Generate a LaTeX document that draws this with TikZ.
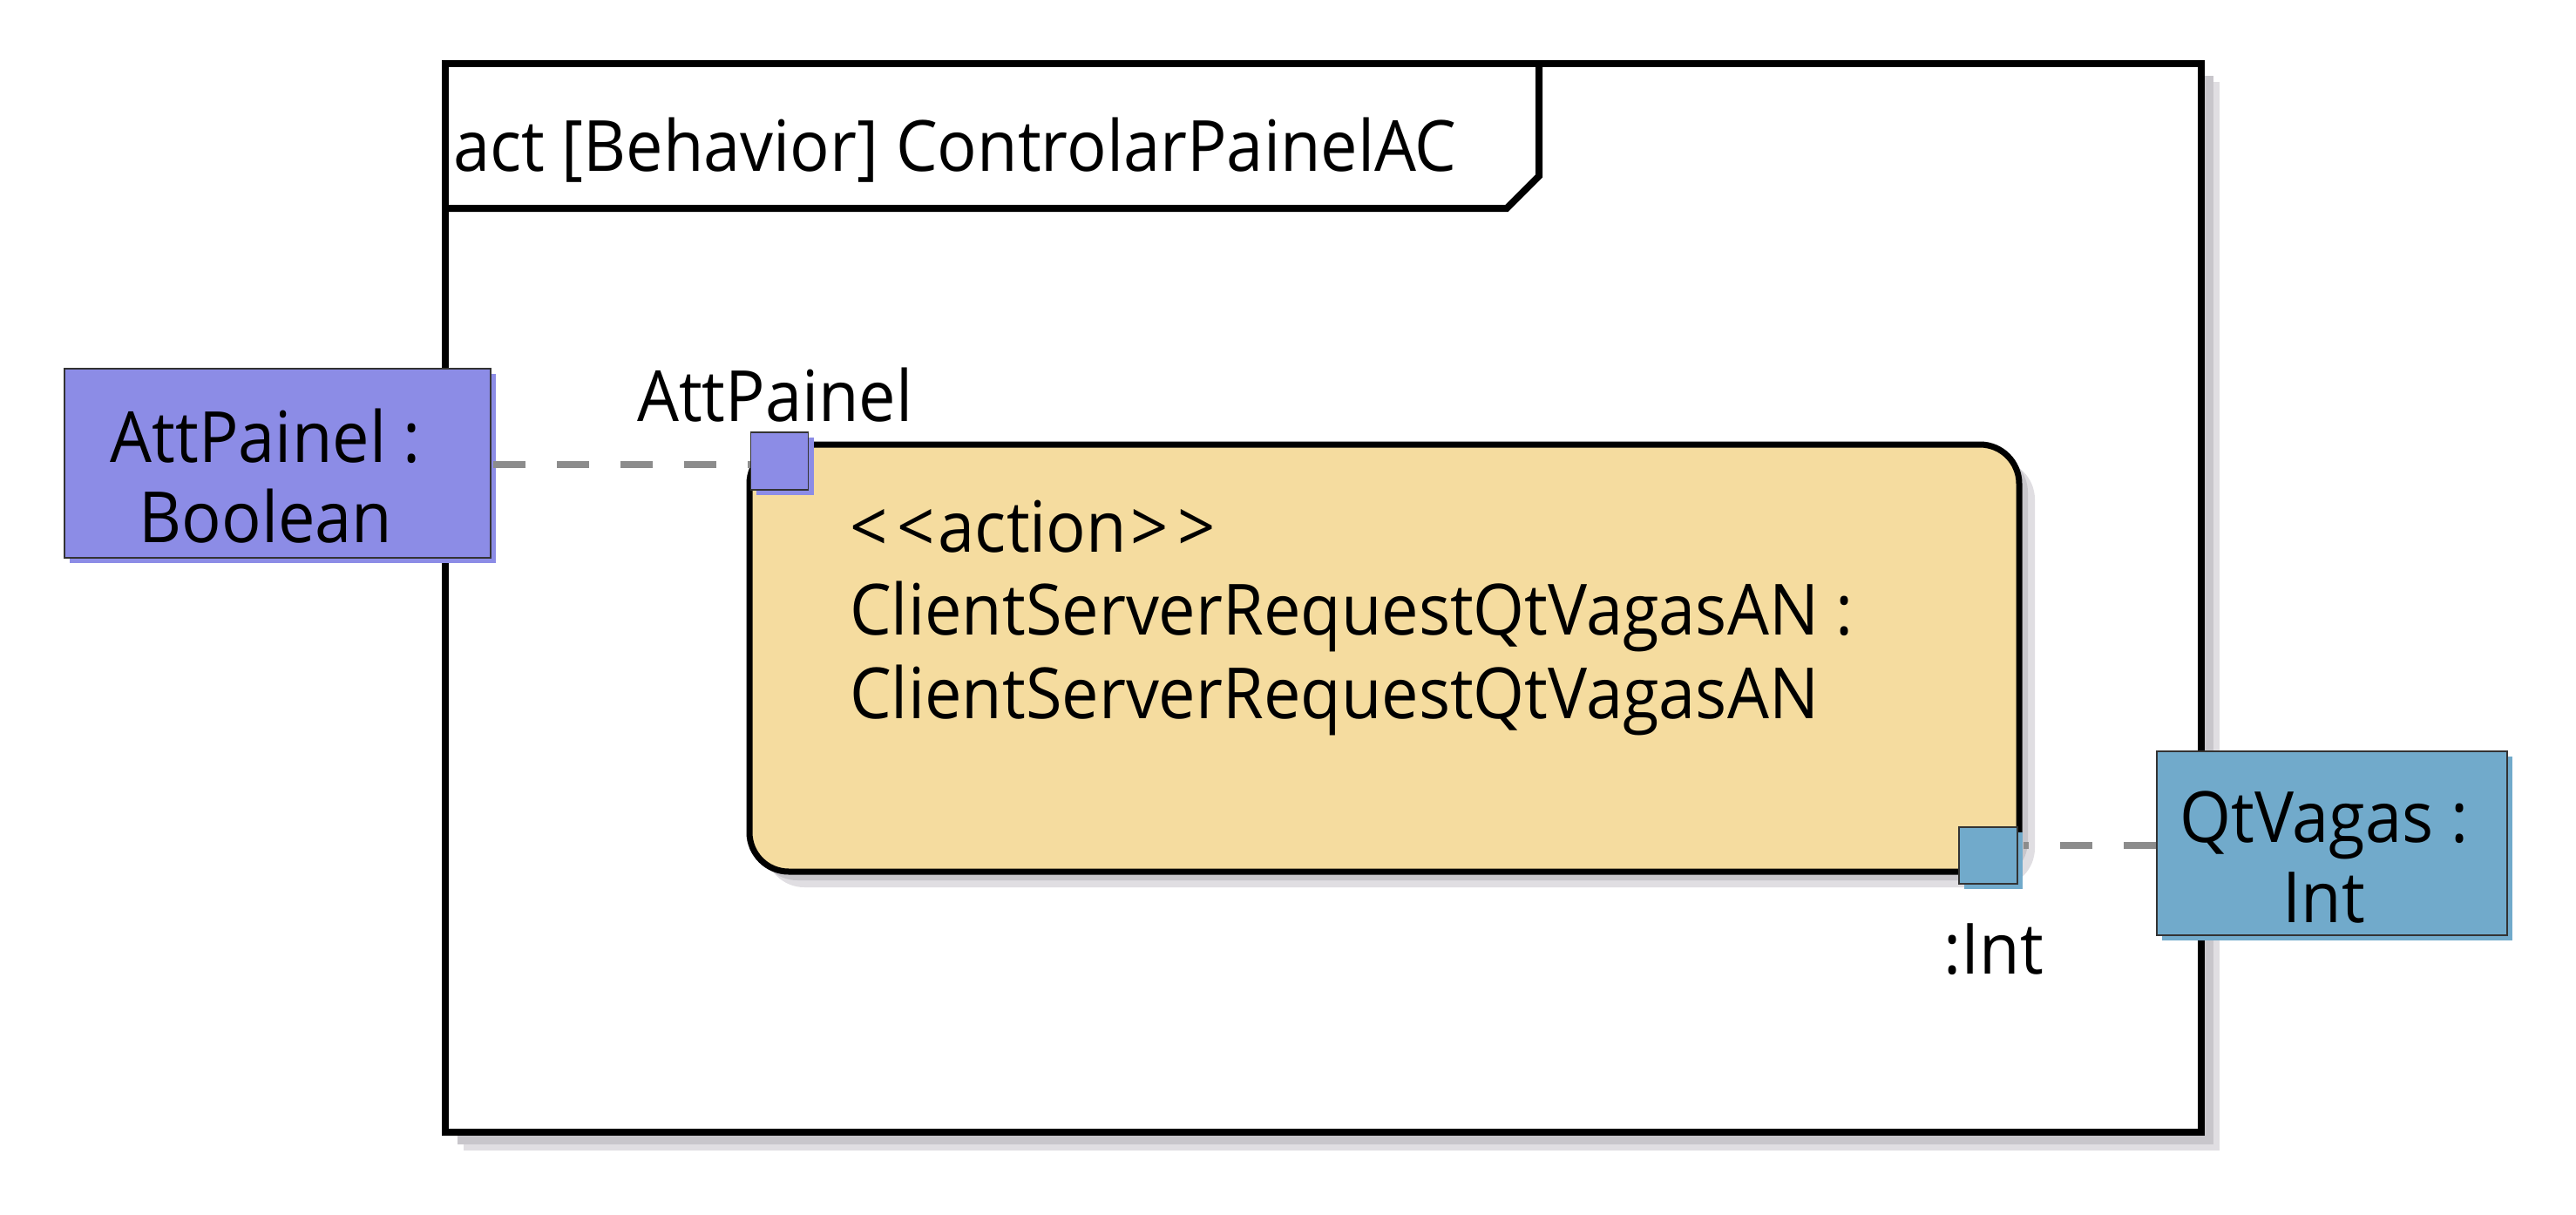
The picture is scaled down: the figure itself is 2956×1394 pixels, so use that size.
\documentclass[tikz,border=0pt]{standalone}
\usepackage{fontspec}
\setmainfont[FakeStretch=0.935]{Open Sans}
\usetikzlibrary{shadows}
\definecolor{purp}{HTML}{8C8CE6}
\definecolor{blu}{HTML}{71AACB}
\definecolor{actfill}{HTML}{F5DC9F}
\definecolor{dashg}{HTML}{8C8C8C}
\definecolor{shd}{HTML}{C8C6CB}
\definecolor{shl}{HTML}{E0DEE2}
\definecolor{edgec}{HTML}{333333}
\begin{document}
\begin{tikzpicture}[x=1pt,y=-1pt,
  txt/.style={font=\fontsize{81}{92}\selectfont, inner sep=0pt},
  objbox/.style={draw=edgec, line width=2pt, fill=#1, inner sep=0pt,
    drop shadow={shadow xshift=6pt, shadow yshift=-6pt, fill=#1, opacity=1}},
  pinbox/.style={draw=edgec, line width=1.5pt, fill=#1, inner sep=0pt,
    drop shadow={shadow xshift=6pt, shadow yshift=-6pt, fill=#1, opacity=1}},
  flowline/.style={draw=dashg, line width=8pt, dash pattern=on 37pt off 36pt},
]
\useasboundingbox (0,0) rectangle (2956,1394);
% frame
\node[draw=black, line width=8pt, fill=white, inner sep=0pt,
  minimum width=2015pt, minimum height=1226pt,
  drop shadow={shadow xshift=21pt, shadow yshift=-21pt, fill=shl, opacity=1},
  drop shadow={shadow xshift=14pt, shadow yshift=-14pt, fill=shd, opacity=1}]
  (frame) at (1518.5,686) {};
\draw[line width=8pt, line join=miter] (511,239) -- (1729,239) -- (1766,202) -- (1766,73);
\node[txt, anchor=base west] (title) at (520,196) {act [Behavior] ControlarPainelAC};
% action
\node[draw=black, line width=7pt, fill=actfill, rounded corners=45pt, inner sep=0pt,
  minimum width=1457pt, minimum height=490pt,
  drop shadow={shadow xshift=18pt, shadow yshift=-18pt, fill=shl, opacity=1},
  drop shadow={shadow xshift=10pt, shadow yshift=-10pt, fill=shd, opacity=1}]
  (action) at (1588.5,755) {};
\node[txt, anchor=base west, align=left, font=\fontsize{81}{95.5}\selectfont] (acttext) at (975,824)
  {<\kern11pt<\kern4pt action\kern4pt>\kern11pt>\\ClientServerRequestQtVagasAN :\\ClientServerRequestQtVagasAN};
% objects
\node[objbox=purp, minimum width=489pt, minimum height=217pt] (att) at (318.5,531.5) {};
\node[txt, anchor=base, align=center] (atttext) at (305,622) {AttPainel :\\Boolean};
\node[objbox=blu, minimum width=402pt, minimum height=211pt] (qt) at (2676,967.5) {};
\node[txt, anchor=base, align=center] (qttext) at (2667,1058) {QtVagas :\\Int};
% pins
\node[pinbox=purp, minimum width=66pt, minimum height=66pt] (pinatt) at (894.5,529) {};
\node[pinbox=blu, minimum width=67pt, minimum height=65pt] (pinint) at (2281.5,981.5) {};
\node[txt, anchor=base west] (pinattlbl) at (731,483) {AttPainel};
\node[txt, anchor=base west] (pinintlbl) at (2230,1117) {:Int};
% connectors
\draw[flowline] ([xshift=2pt]att.east |- 0,533) -- (pinatt.west |- 0,533);
\draw[flowline] (qt.west |- 0,970) -- ([xshift=6pt]pinint.east |- 0,970);
\end{tikzpicture}
\end{document}
